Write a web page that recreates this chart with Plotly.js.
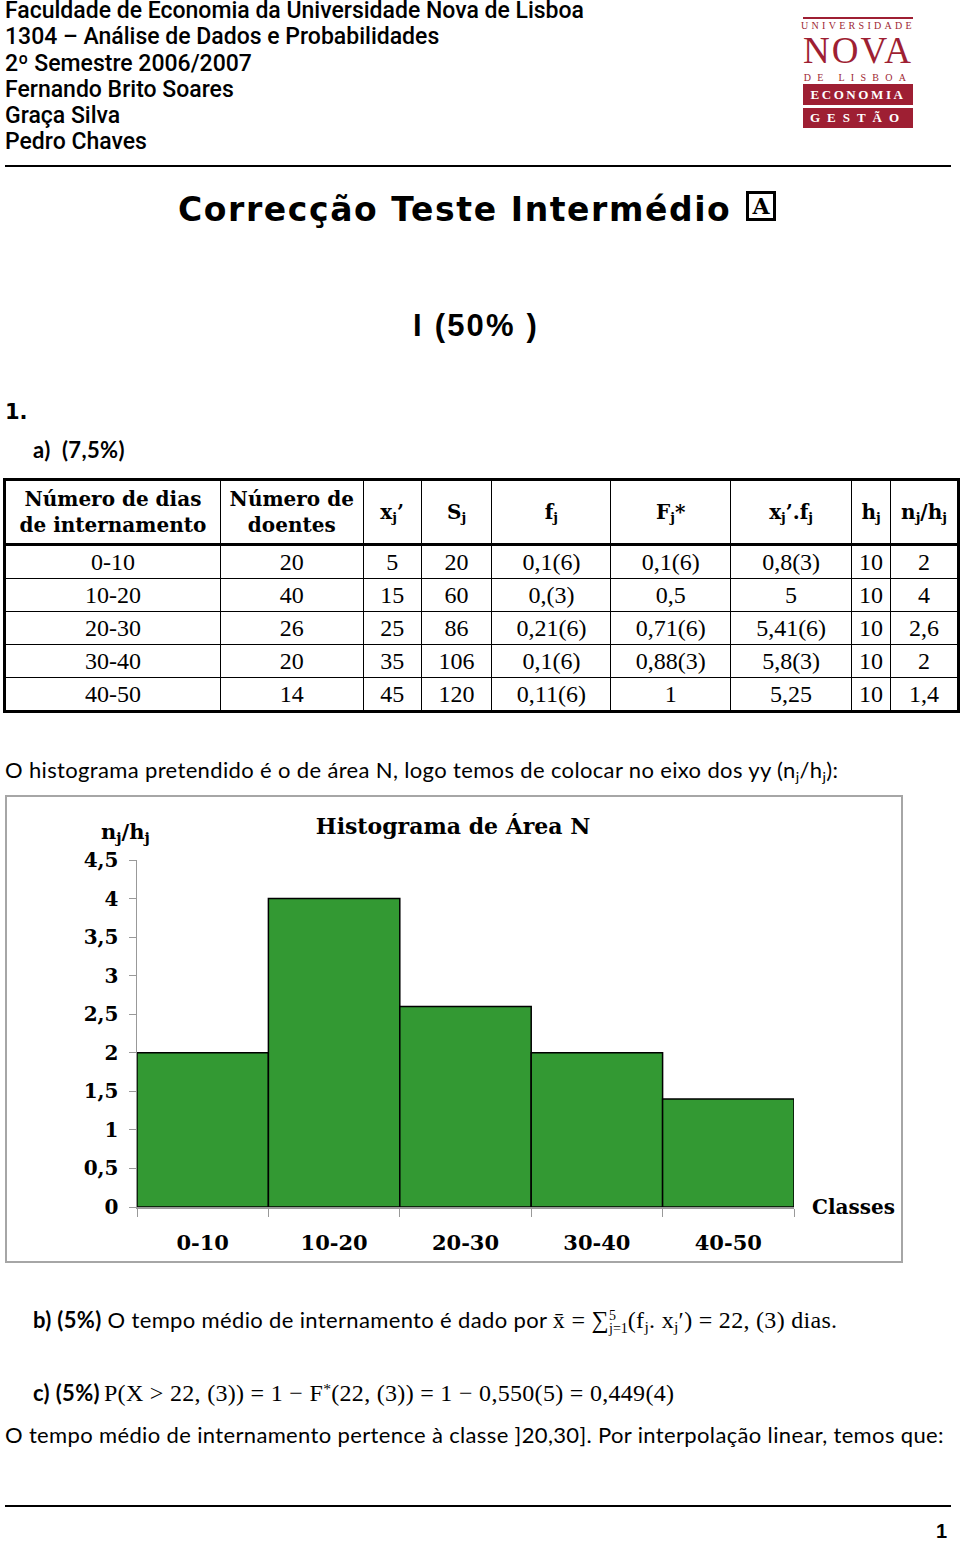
<!DOCTYPE html>
<html>
<head>
<meta charset="utf-8">
<script src="https://cdn.plot.ly/plotly-3.0.1.min.js"></script>
<style>
  html, body { margin:0; padding:0; background:#fff; }
  body { width:960px; height:1543px; position:relative; overflow:hidden; color:#000; }
  .abs { position:absolute; white-space:nowrap; }
  .hdr { font-family:Roboto, "Liberation Sans", sans-serif; font-weight:500; font-size:23px; line-height:26.3px; }
  .cal { font-family:Lato, "Open Sans", sans-serif; font-size:22px; letter-spacing:0.35px; }
  .math { font-family:"Liberation Serif", "DejaVu Serif", serif; font-size:24px; letter-spacing:0.3px; }
  .rule { position:absolute; background:#000; }
  .logo { position:absolute; color:#9e1f33; font-family:"Liberation Serif", serif; text-align:center; }
  table.tb { position:absolute; left:3px; top:478px; border-collapse:collapse; table-layout:fixed; }
  table.tb td, table.tb th { border:1.5px solid #000; text-align:center; padding:0; }
  table.tb th { font-family:"DejaVu Serif", serif; font-weight:bold; font-size:20px; line-height:26px; height:62px; }
  table.tb td { font-family:"Liberation Serif", serif; font-size:24px; height:32px; line-height:30px; }
  table.tb tr:first-child th { border-top:3px solid #000; border-bottom:3px solid #000; }
  table.tb tr:last-child td { border-bottom:3px solid #000; }
  table.tb tr > *:first-child { border-left:3px solid #000; }
  table.tb tr > *:last-child { border-right:3px solid #000; }
  sub { font-size:65%; vertical-align:-0.25em; line-height:0; }
  sup { font-size:65%; vertical-align:0.45em; line-height:0; }
</style>
</head>
<body>

<div class="abs hdr" style="left:5px; top:-2px;">
Faculdade de Economia da Universidade Nova de Lisboa<br>
1304 – Análise de Dados e Probabilidades<br>
2º Semestre 2006/2007<br>
Fernando Brito Soares<br>
Graça Silva<br>
Pedro Chaves
</div>

<!-- logo -->
<div class="logo" style="left:803px; top:17px; width:110px; height:2px; background:#9e1f33;"></div>
<div class="logo" style="left:800px; top:20px; width:116px; font-size:10px; letter-spacing:3.3px; line-height:12px;">UNIVERSIDADE</div>
<div class="logo" style="left:800px; top:32px; width:116px; font-size:37px; line-height:38px; letter-spacing:2px;">NOVA</div>
<div class="logo" style="left:800px; top:72px; width:116px; font-size:10px; letter-spacing:6.3px; line-height:12px;">DE LISBOA</div>
<div class="logo" style="left:803px; top:84px; width:110px; height:21px; background:#9e1f33; color:#fff; font-size:13px; font-weight:bold; letter-spacing:2.6px; line-height:21px;">ECONOMIA</div>
<div class="logo" style="left:803px; top:108px; width:110px; height:20px; background:#9e1f33; color:#fff; font-size:13px; font-weight:bold; letter-spacing:7px; line-height:20px;">GESTÃO</div>

<div class="rule" style="left:5px; top:165px; width:946px; height:2px;"></div>

<div class="abs" style="left:178px; top:190px; font-family:'DejaVu Sans', sans-serif; font-weight:bold; font-size:33px; line-height:40px; letter-spacing:1.6px;">Correcção Teste Intermédio</div>
<div class="abs" style="left:746px; top:191px; width:24px; height:24px; border:3px solid #000; font-family:'DejaVu Serif', serif; font-weight:bold; font-size:22px; line-height:24px; text-align:center;">A</div>

<div class="abs" style="left:413px; top:308px; font-family:'Liberation Sans', sans-serif; font-weight:bold; font-size:31px; line-height:36px; letter-spacing:2.2px;">I (50% )</div>

<div class="abs" style="left:5px; top:398px; font-family:'DejaVu Sans', sans-serif; font-weight:bold; font-size:21px; line-height:28px;">1.</div>
<div class="abs cal" style="left:33px; top:436px; font-weight:bold; line-height:28px;">a) &nbsp;(7,5%)</div>

<table class="tb" id="tbl"></table>

<div class="abs cal" style="left:5px; top:756px; line-height:28px;">O histograma pretendido é o de área N, logo temos de colocar no eixo dos yy (n<sub>j</sub>/h<sub>j</sub>):</div>

<div id="chart" style="position:absolute; left:6px; top:796px; width:896px; height:466px;"></div>
<div style="position:absolute; left:5px; top:795px; width:894px; height:464px; border:2px solid #a6a6a6; pointer-events:none;"></div>

<div class="abs" style="left:33px; top:1305px; line-height:30px;">
  <span class="cal" style="font-weight:bold;">b) (5%)</span><span class="cal"> O tempo médio de internamento é dado por </span><span class="math">x̄ = ∑<span style="display:inline-block; vertical-align:middle; font-size:14px; line-height:13px; text-align:left; letter-spacing:0;">5<br>j=1</span>(f<sub>j</sub>. x<sub>j</sub>′) = 22, (3) dias.</span>
</div>

<div class="abs" style="left:33px; top:1378px; line-height:30px;">
  <span class="cal" style="font-weight:bold;">c) (5%)</span> <span class="math">P(X &gt; 22, (3)) = 1 − F<sup>*</sup>(22, (3)) = 1 − 0,550(5) = 0,449(4)</span>
</div>

<div class="abs cal" style="left:5px; top:1421px; line-height:28px;">O tempo médio de internamento pertence à classe ]20,30]. Por interpolação linear, temos que:</div>

<div class="rule" style="left:5px; top:1505px; width:946px; height:2px;"></div>
<div class="abs" style="left:936px; top:1518px; font-family:'Liberation Sans', sans-serif; font-weight:bold; font-size:20px; line-height:26px;">1</div>

<script>
// ---------- data ----------
const classLabels = ['0-10', '10-20', '20-30', '30-40', '40-50'];
const classLower  = [0, 10, 20, 30, 40];
const nDoentes    = [20, 40, 26, 20, 14];
const xjLabels    = ['5', '15', '25', '35', '45'];
const SjLabels    = ['20', '60', '86', '106', '120'];
const fjLabels    = ['0,1(6)', '0,(3)', '0,21(6)', '0,1(6)', '0,11(6)'];
const FjLabels    = ['0,1(6)', '0,5', '0,71(6)', '0,88(3)', '1'];
const xjfjLabels  = ['0,8(3)', '5', '5,41(6)', '5,8(3)', '5,25'];
const hj          = [10, 10, 10, 10, 10];
const njhj        = [2, 4, 2.6, 2, 1.4];
const headerLabels = ['Número de dias<br>de internamento', 'Número de<br>doentes', 'x<sub>j</sub>’', 'S<sub>j</sub>',
                      'f<sub>j</sub>', 'F<sub>j</sub>*', 'x<sub>j</sub>’.f<sub>j</sub>', 'h<sub>j</sub>', 'n<sub>j</sub>/h<sub>j</sub>'];
const yTickVals   = [0, 0.5, 1, 1.5, 2, 2.5, 3, 3.5, 4, 4.5];
const yTickText   = ['0', '0,5', '1', '1,5', '2', '2,5', '3', '3,5', '4', '4,5'];

// ---------- table ----------
const colWidths = [216, 143, 58, 71, 119, 120, 121, 39, 68];
const fmt = v => String(v).replace('.', ',');
(function buildTable() {
  const t = document.getElementById('tbl');
  let html = '<colgroup>' + colWidths.map(w => '<col style="width:' + w + 'px">').join('') + '</colgroup>';
  html += '<tr>' + headerLabels.map(h => '<th>' + h + '</th>').join('') + '</tr>';
  for (let i = 0; i < classLabels.length; i++) {
    const row = [classLabels[i], nDoentes[i], xjLabels[i], SjLabels[i], fjLabels[i], FjLabels[i], xjfjLabels[i], hj[i], fmt(njhj[i])];
    html += '<tr>' + row.map(c => '<td>' + c + '</td>').join('') + '</tr>';
  }
  t.innerHTML = html;
})();

// ---------- chart ----------
const mids = classLower.map((l, i) => l + hj[i] / 2);
const edges = classLower.concat([classLower[classLower.length - 1] + hj[hj.length - 1]]);
const serifBold = {family: 'DejaVu Serif, serif', size: 20, color: '#000', weight: 'bold'};
const serifBoldX = {family: 'DejaVu Serif, serif', size: 21, color: '#000', weight: 'bold'};

const traces = [
  {
    type: 'bar', x: mids, y: njhj, width: hj,
    marker: {color: '#339933', line: {color: '#000', width: 1.5}},
    hoverinfo: 'skip', showlegend: false
  },
  {
    type: 'scatter', mode: 'none', x: mids, y: njhj, xaxis: 'x2',
    hoverinfo: 'skip', showlegend: false
  }
];

const layout = {
  width: 896, height: 466,
  margin: {l: 131, r: 108, t: 64, b: 55},
  paper_bgcolor: '#fff', plot_bgcolor: '#fff',
  showlegend: false,
  title: {
    text: 'Histograma de Área N',
    font: {family: 'DejaVu Serif, serif', size: 22, color: '#000', weight: 'bold'},
    xref: 'container', x: 0.499, xanchor: 'center',
    yref: 'container', y: 0.936, yanchor: 'middle'
  },
  xaxis: {
    range: [edges[0], edges[edges.length - 1]],
    tickvals: edges, showticklabels: false,
    ticks: 'outside', ticklen: 8, tickcolor: '#999', tickwidth: 1,
    showline: true, linecolor: '#999', linewidth: 1.5,
    showgrid: false, zeroline: false, fixedrange: true
  },
  xaxis2: {
    overlaying: 'x', anchor: 'y', side: 'bottom',
    range: [edges[0], edges[edges.length - 1]],
    tickvals: mids, ticktext: classLabels, tickfont: serifBoldX,
    ticks: '', ticklabelstandoff: 21,
    showline: false, showgrid: false, zeroline: false, fixedrange: true
  },
  yaxis: {
    range: [0, 4.5],
    tickvals: yTickVals, ticktext: yTickText, tickfont: serifBold,
    ticks: 'outside', ticklen: 7, tickcolor: '#999', tickwidth: 1,
    ticklabelstandoff: 6,
    showline: true, linecolor: '#999', linewidth: 1.5,
    showgrid: false, zeroline: false, fixedrange: true
  },
  annotations: [
    {
      text: 'n<sub>j</sub>/h<sub>j</sub>', xref: 'paper', yref: 'paper',
      x: -0.018, y: 1.08, xanchor: 'center', yanchor: 'middle', showarrow: false,
      font: {family: 'DejaVu Serif, serif', size: 21, color: '#000', weight: 'bold'}
    },
    {
      text: 'Classes', xref: 'paper', yref: 'paper',
      x: 1.024, y: 0, xanchor: 'left', yanchor: 'middle', showarrow: false,
      font: serifBold
    }
  ]
};

Plotly.newPlot('chart', traces, layout, {displayModeBar: false, staticPlot: true});
</script>
</body>
</html>
